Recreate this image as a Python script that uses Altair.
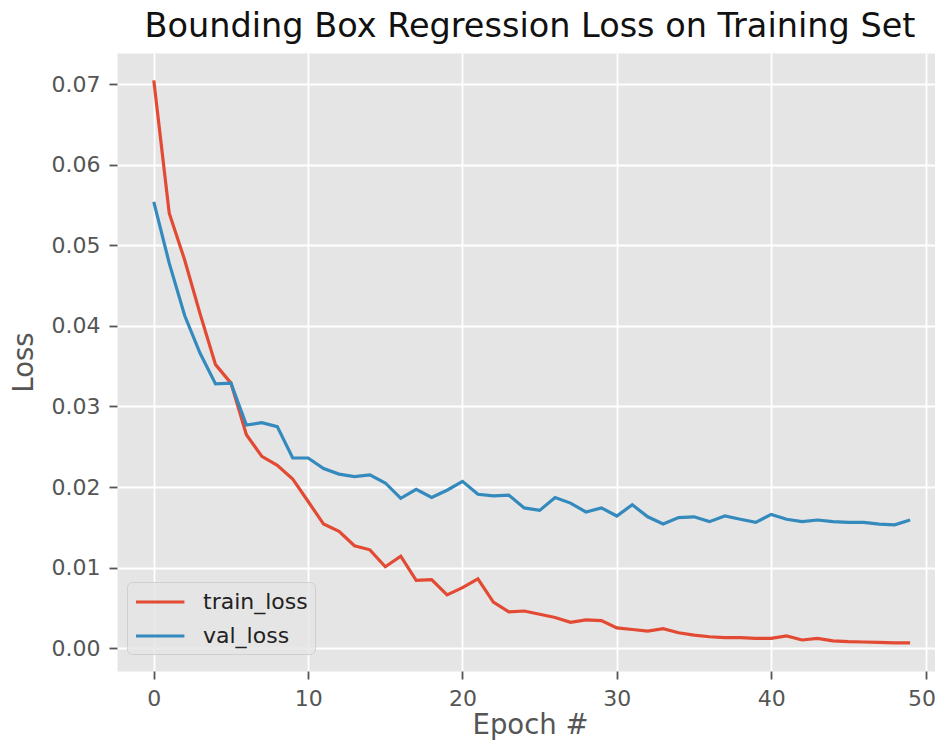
import altair as alt
import pandas as pd

epochs = list(range(50))
train_loss = [0.0705, 0.0540, 0.0482, 0.0415, 0.0352, 0.0329, 0.0265, 0.0238, 0.0227, 0.0210,
              0.0182, 0.0154, 0.0145, 0.0127, 0.0122, 0.0101, 0.0114, 0.0084, 0.0085, 0.0066,
              0.0075, 0.0086, 0.0057, 0.0045, 0.0046, 0.0042, 0.0038, 0.0032, 0.0035, 0.0034,
              0.0025, 0.0023, 0.0021, 0.0024, 0.0019, 0.0016, 0.0014, 0.0013, 0.0013, 0.0012,
              0.0012, 0.0015, 0.0010, 0.0012, 0.0009, 0.0008, 0.00075, 0.0007, 0.00065, 0.00065]
val_loss = [0.0554, 0.0478, 0.0413, 0.0366, 0.0328, 0.0329, 0.0277, 0.0280, 0.0275, 0.0236,
            0.0236, 0.0223, 0.0216, 0.0213, 0.0215, 0.0205, 0.0186, 0.0197, 0.0187, 0.0196,
            0.0207, 0.0191, 0.0189, 0.0190, 0.0174, 0.0171, 0.0187, 0.0180, 0.0169, 0.0174,
            0.0164, 0.0178, 0.0163, 0.0154, 0.0162, 0.0163, 0.0157, 0.0164, 0.0160, 0.0156,
            0.0166, 0.0160, 0.0157, 0.0159, 0.0157, 0.0156, 0.0156, 0.0154, 0.0153, 0.0159]
series_names = ["train_loss", "val_loss"]
series_colors = ["#E24A33", "#348ABD"]
x_ticks = [0, 10, 20, 30, 40, 50]
y_ticks = [0.00, 0.01, 0.02, 0.03, 0.04, 0.05, 0.06, 0.07]

df = pd.concat([
    pd.DataFrame({"epoch": epochs, "loss": train_loss, "series": series_names[0]}),
    pd.DataFrame({"epoch": epochs, "loss": val_loss, "series": series_names[1]}),
])

FONT = "DejaVu Sans"

chart = alt.Chart(df).mark_line(strokeWidth=3.2).encode(
    x=alt.X("epoch:Q",
            scale=alt.Scale(domain=[-2.384, 50.614], nice=False, zero=False),
            axis=alt.Axis(values=x_ticks, title="Epoch #", format="d",
                          labelFlush=12, labelFlushOffset=10,
                          titleX=413, titleY=62, titleBaseline="alphabetic",
                          titleAnchor="start", titleAlign="center")),
    y=alt.Y("loss:Q",
            scale=alt.Scale(domain=[-0.00285, 0.0739], nice=False, zero=False),
            axis=alt.Axis(values=y_ticks, format=".2f", title="Loss",
                          titleX=-85, titleY=309, titleAngle=270,
                          titleBaseline="alphabetic", titleAlign="center")),
    color=alt.Color("series:N",
                    scale=alt.Scale(domain=series_names, range=series_colors),
                    legend=alt.Legend(title=None, orient="none", legendX=10, legendY=529,
                                      symbolType="M-1,0L3.4,0", symbolSize=484,
                                      symbolStrokeWidth=3.2, symbolFillColor="transparent",
                                      labelFont=FONT, labelFontSize=22, labelColor="#222222",
                                      labelOffset=43, padding=7, rowPadding=10,
                                      fillColor="rgba(229,229,229,0.8)",
                                      strokeColor="rgba(204,204,204,0.9)",
                                      cornerRadius=5)),
).properties(
    width=818,
    height=618,
    title=alt.TitleParams(text="Bounding Box Regression Loss on Training Set",
                          font=FONT, fontSize=33.5, fontWeight="normal", color="#111111",
                          anchor="middle", frame="group", baseline="alphabetic",
                          offset=16, dy=33, dx=4),
    autosize=alt.AutoSizeParams(type="none"),
    padding={"left": 109, "top": 45, "right": 0, "bottom": 69},
).configure_view(
    fill="#E5E5E5", stroke="transparent"
).configure_axis(
    labelFont=FONT, labelFontSize=22, labelColor="#555555",
    titleFont=FONT, titleFontSize=27.5, titleColor="#555555", titleFontWeight="normal",
    tickColor="#555555", tickSize=8, tickWidth=1.8, labelPadding=9,
    gridColor="white", gridWidth=1.8, domain=False,
)

chart.save("out.html", embed_options={"renderer": "svg", "actions": False})
